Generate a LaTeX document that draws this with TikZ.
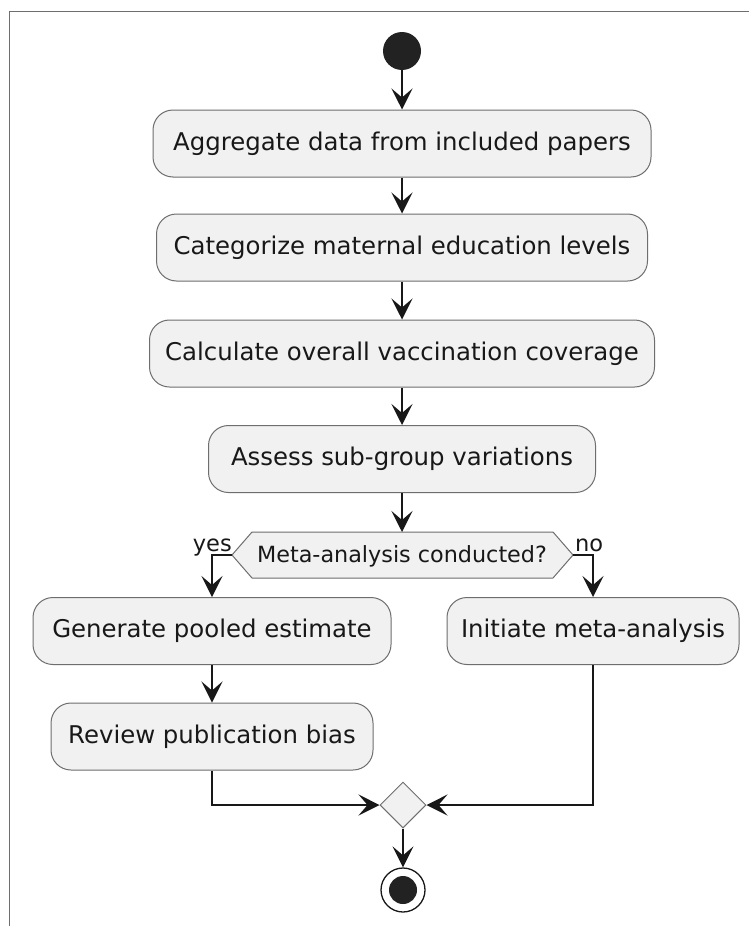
\documentclass[tikz,border=0pt]{standalone}
\usepackage{fontspec}
\setmainfont{DejaVu Sans}
\usetikzlibrary{arrows.meta,shapes.geometric}
\definecolor{boxfill}{HTML}{F1F1F1}
\definecolor{boxline}{HTML}{6E6E6E}
\definecolor{ink}{HTML}{181818}
\definecolor{dot}{HTML}{222222}
\begin{document}
\begin{tikzpicture}[x=1pt,y=-1pt,
  actbox/.style={draw=boxline, fill=boxfill, line width=1pt, rounded corners=20pt,
    minimum height=67pt, inner sep=0pt, font=\fontsize{24.4}{28}\selectfont, text=ink},
  flow/.style={draw=ink, line width=1.5pt, -{Stealth[length=21pt,width=21pt,inset=9pt]}},
  lbl/.style={font=\fontsize{22.5}{26}\selectfont, text=ink, inner sep=0pt}]
\useasboundingbox (0,0) rectangle (749,926);
\fill[white] (0,0) rectangle (749,926);
% frame
\draw[draw=boxline, line width=1pt] (9.5,926) -- (9.5,11.5) -- (749,11.5);

% start
\node[circle, fill=dot, minimum size=38pt, inner sep=0pt] (start) at (402,51) {};

% activities
\node[actbox, minimum width=498pt] (a1) at (402,143.5) {Aggregate data from included papers};
\node[actbox, minimum width=491pt] (a2) at (402,247.5) {Categorize maternal education levels};
\node[actbox, minimum width=505pt] (a3) at (402,353.5) {Calculate overall vaccination coverage};
\node[actbox, minimum width=387pt] (a4) at (402,459) {Assess sub-group variations};

% decision hexagon
\coordinate (hL) at (232,555);
\coordinate (hR) at (573,555);
\coordinate (hT) at (402,532);
\filldraw[draw=boxline, fill=boxfill, line width=1pt]
  (hL) -- (252,532) -- (553,532) -- (hR) -- (553,578) -- (252,578) -- cycle;
\node[font=\fontsize{22.3}{26}\selectfont, text=ink, inner sep=0pt] (dec) at (402,556) {Meta-analysis conducted?};
\node[lbl, anchor=base east] (yes) at (232,551) {yes};
\node[lbl, anchor=base west] (no) at (575,551) {no};

\node[actbox, minimum width=358pt] (a5) at (212,631) {Generate pooled estimate};
\node[actbox, minimum width=292pt] (a6) at (593,631) {Initiate meta-analysis};
\node[actbox, minimum width=322pt] (a7) at (212,736.5) {Review publication bias};

% merge
\node[diamond, draw=boxline, fill=boxfill, line width=1pt, minimum width=46pt, minimum height=46pt, inner sep=0pt] (merge) at (403,805) {};

% end
\node[circle, draw=ink, fill=white, line width=1.3pt, minimum size=44pt, inner sep=0pt] (stop) at (403,890) {};
\node[circle, fill=dot, minimum size=28pt, inner sep=0pt] (stopin) at (403,890) {};

% connectors
\draw[flow] (start) -- (a1);
\draw[flow] (a1) -- (a2);
\draw[flow] (a2) -- (a3);
\draw[flow] (a3) -- (a4);
\draw[flow] (a4.south) -- (hT);
\draw[flow] (hL) -| (a5.north);
\draw[flow] (hR) -| (a6.north);
\draw[flow] (a5) -- (a7);
\draw[flow] (a7.south) |- (merge.west);
\draw[flow] (a6.south) |- (merge.east);
\draw[flow] (merge.south) -- (stop.north);
\end{tikzpicture}
\end{document}
